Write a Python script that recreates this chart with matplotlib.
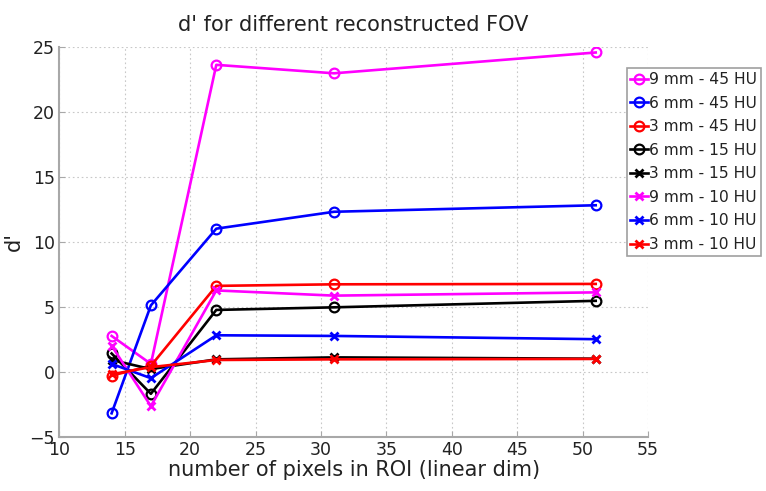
import numpy as np
import matplotlib
matplotlib.use("Agg")
import matplotlib.pyplot as plt

# --- data ---
roi_pixels = [14, 17, 22, 31, 51]

labels = ["9 mm - 45 HU", "6 mm - 45 HU", "3 mm - 45 HU", "6 mm - 15 HU",
          "3 mm - 15 HU", "9 mm - 10 HU", "6 mm - 10 HU", "3 mm - 10 HU"]

d_9mm_45 = [2.75, 0.6, 23.6, 22.95, 24.55]
d_6mm_45 = [-3.2, 5.1, 11.0, 12.3, 12.8]
d_3mm_45 = [-0.3, 0.45, 6.6, 6.72, 6.75]
d_6mm_15 = [1.4, -1.7, 4.75, 4.95, 5.45]
d_3mm_15 = [0.9, 0.2, 0.95, 1.1, 1.0]
d_9mm_10 = [2.0, -2.65, 6.25, 5.85, 6.1]
d_6mm_10 = [0.6, -0.5, 2.8, 2.75, 2.5]
d_3mm_10 = [-0.2, 0.35, 0.9, 0.95, 0.98]

series = [d_9mm_45, d_6mm_45, d_3mm_45, d_6mm_15,
          d_3mm_15, d_9mm_10, d_6mm_10, d_3mm_10]
colors = ["#ff00ff", "#0000ff", "#ff0000", "#000000",
          "#000000", "#ff00ff", "#0000ff", "#ff0000"]
markers = ["o", "o", "o", "o", "x", "x", "x", "x"]

fig = plt.figure(figsize=(7.66, 4.91), dpi=100)
ax = fig.add_axes([0.0774, 0.1106, 0.7686, 0.7944])

for y, c, m, lab in zip(series, colors, markers, labels):
    if m == "o":
        ax.plot(roi_pixels, y, color=c, lw=1.9, marker="o", ms=7,
                mfc="none", mec=c, mew=1.6, label=lab)
    else:
        ax.plot(roi_pixels, y, color=c, lw=1.9, marker="x", ms=5.5,
                mew=2.0, label=lab)

ax.set_xlim(10, 55)
ax.set_ylim(-5, 25)
ax.set_xticks(np.arange(10, 56, 5))
ax.set_yticks(np.arange(-5, 26, 5))
ax.grid(True, color="#c8c8c8", linestyle=(0, (1.5, 2.5)), lw=0.8)

for s in ["top", "right"]:
    ax.spines[s].set_visible(False)
for s in ["left", "bottom"]:
    ax.spines[s].set_color("#a8a8a8")
    ax.spines[s].set_linewidth(1.5)
ax.tick_params(direction="in", length=4, color="#a8a8a8", labelsize=12.5,
               labelcolor="#222222", pad=3)

ax.set_title("d' for different reconstructed FOV", fontsize=15,
             color="#222222", pad=11)
ax.set_xlabel("number of pixels in ROI (linear dim)", fontsize=15,
              color="#222222", labelpad=1)
ax.set_ylabel("d'", fontsize=15, color="#222222", labelpad=4)

leg = ax.legend(loc="upper left", bbox_to_anchor=(0.818, 0.861),
                bbox_transform=fig.transFigure, borderaxespad=0,
                fontsize=11.2, handlelength=1.1, handletextpad=0.1,
                labelspacing=0.55, borderpad=0.25, fancybox=False,
                framealpha=1, edgecolor="#a0a0a0")
leg.get_frame().set_linewidth(1.2)
for t in leg.get_texts():
    t.set_color("#222222")

fig.savefig("out.png", dpi=100)
